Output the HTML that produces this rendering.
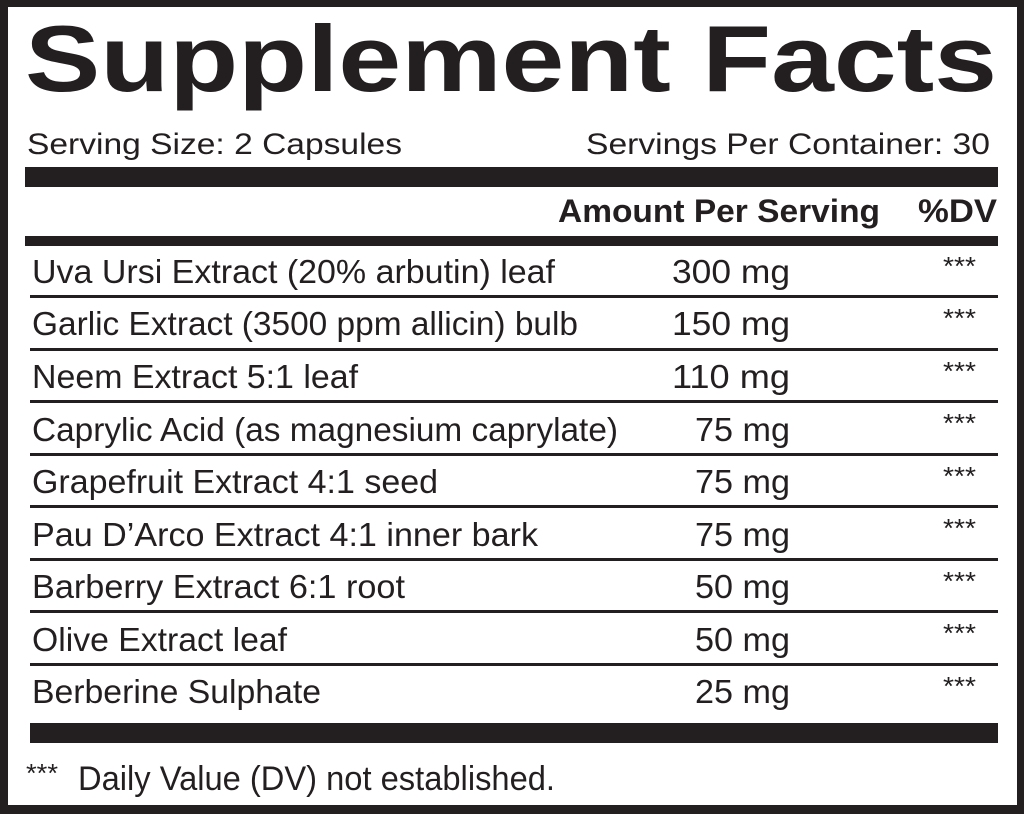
<!DOCTYPE html>
<html><head><meta charset="utf-8"><style>
html,body{margin:0;padding:0;background:#231f20;}
svg{display:block}
text{font-family:"Liberation Sans",Arial,sans-serif;fill:#231f20}
</style></head><body>
<svg width="1024" height="814" viewBox="0 0 1024 814">
<rect x="0" y="0" width="1024" height="814" fill="#231f20"/>
<rect x="8" y="7" width="1009" height="798" fill="#fff"/>
<text x="25" y="91" font-size="94" font-weight="bold" textLength="972" lengthAdjust="spacingAndGlyphs">Supplement Facts</text>
<text x="27" y="154" font-size="30" textLength="375" lengthAdjust="spacingAndGlyphs">Serving Size: 2 Capsules</text>
<text x="586" y="154" font-size="30" textLength="404" lengthAdjust="spacingAndGlyphs">Servings Per Container: 30</text>
<rect x="25" y="167" width="973" height="20" fill="#231f20"/>
<text x="558" y="222" font-size="32" font-weight="bold" textLength="322" lengthAdjust="spacingAndGlyphs">Amount Per Serving</text>
<text x="918" y="222" font-size="32" font-weight="bold" textLength="79" lengthAdjust="spacingAndGlyphs">%DV</text>
<rect x="25" y="236" width="973" height="10" fill="#231f20"/>
<g font-size="33">
<text x="32" y="283" textLength="523" lengthAdjust="spacingAndGlyphs">Uva Ursi Extract (20% arbutin) leaf</text>
<text x="32" y="335" textLength="546" lengthAdjust="spacingAndGlyphs">Garlic Extract (3500 ppm allicin) bulb</text>
<text x="32" y="388" textLength="326" lengthAdjust="spacingAndGlyphs">Neem Extract 5:1 leaf</text>
<text x="32" y="441" textLength="586" lengthAdjust="spacingAndGlyphs">Caprylic Acid (as magnesium caprylate)</text>
<text x="32" y="493" textLength="406" lengthAdjust="spacingAndGlyphs">Grapefruit Extract 4:1 seed</text>
<text x="32" y="546" textLength="506" lengthAdjust="spacingAndGlyphs">Pau D’Arco Extract 4:1 inner bark</text>
<text x="32" y="598" textLength="373" lengthAdjust="spacingAndGlyphs">Barberry Extract 6:1 root</text>
<text x="32" y="651" textLength="255" lengthAdjust="spacingAndGlyphs">Olive Extract leaf</text>
<text x="32" y="703" textLength="289" lengthAdjust="spacingAndGlyphs">Berberine Sulphate</text>
<text x="672" y="283" textLength="118" lengthAdjust="spacingAndGlyphs">300  mg</text>
<text x="672" y="335" textLength="118" lengthAdjust="spacingAndGlyphs">150  mg</text>
<text x="672" y="388" textLength="118" lengthAdjust="spacingAndGlyphs">110 mg</text>
<text x="695" y="441" textLength="95" lengthAdjust="spacingAndGlyphs">75  mg</text>
<text x="695" y="493" textLength="95" lengthAdjust="spacingAndGlyphs">75  mg</text>
<text x="695" y="546" textLength="95" lengthAdjust="spacingAndGlyphs">75  mg</text>
<text x="695" y="598" textLength="95" lengthAdjust="spacingAndGlyphs">50  mg</text>
<text x="695" y="651" textLength="95" lengthAdjust="spacingAndGlyphs">50  mg</text>
<text x="695" y="703" textLength="95" lengthAdjust="spacingAndGlyphs">25  mg</text>
</g>
<g font-size="26">
<text x="943" y="275" textLength="33" lengthAdjust="spacingAndGlyphs">***</text><text x="943" y="327" textLength="33" lengthAdjust="spacingAndGlyphs">***</text><text x="943" y="380" textLength="33" lengthAdjust="spacingAndGlyphs">***</text>
<text x="943" y="432" textLength="33" lengthAdjust="spacingAndGlyphs">***</text><text x="943" y="485" textLength="33" lengthAdjust="spacingAndGlyphs">***</text><text x="943" y="537" textLength="33" lengthAdjust="spacingAndGlyphs">***</text>
<text x="943" y="590" textLength="33" lengthAdjust="spacingAndGlyphs">***</text><text x="943" y="642" textLength="33" lengthAdjust="spacingAndGlyphs">***</text><text x="943" y="695" textLength="33" lengthAdjust="spacingAndGlyphs">***</text>
</g>
<g fill="#231f20">
<rect x="30" y="295" width="968" height="3"/><rect x="30" y="348" width="968" height="3"/>
<rect x="30" y="400" width="968" height="3"/><rect x="30" y="453" width="968" height="3"/>
<rect x="30" y="505" width="968" height="3"/><rect x="30" y="558" width="968" height="3"/>
<rect x="30" y="610" width="968" height="3"/><rect x="30" y="663" width="968" height="3"/>
<rect x="30" y="723" width="968" height="20"/>
</g>
<text x="26" y="782" font-size="26" textLength="32" lengthAdjust="spacingAndGlyphs">***</text>
<text x="78" y="790" font-size="34" textLength="477" lengthAdjust="spacingAndGlyphs">Daily Value (DV) not established.</text>
</svg>
</body></html>
